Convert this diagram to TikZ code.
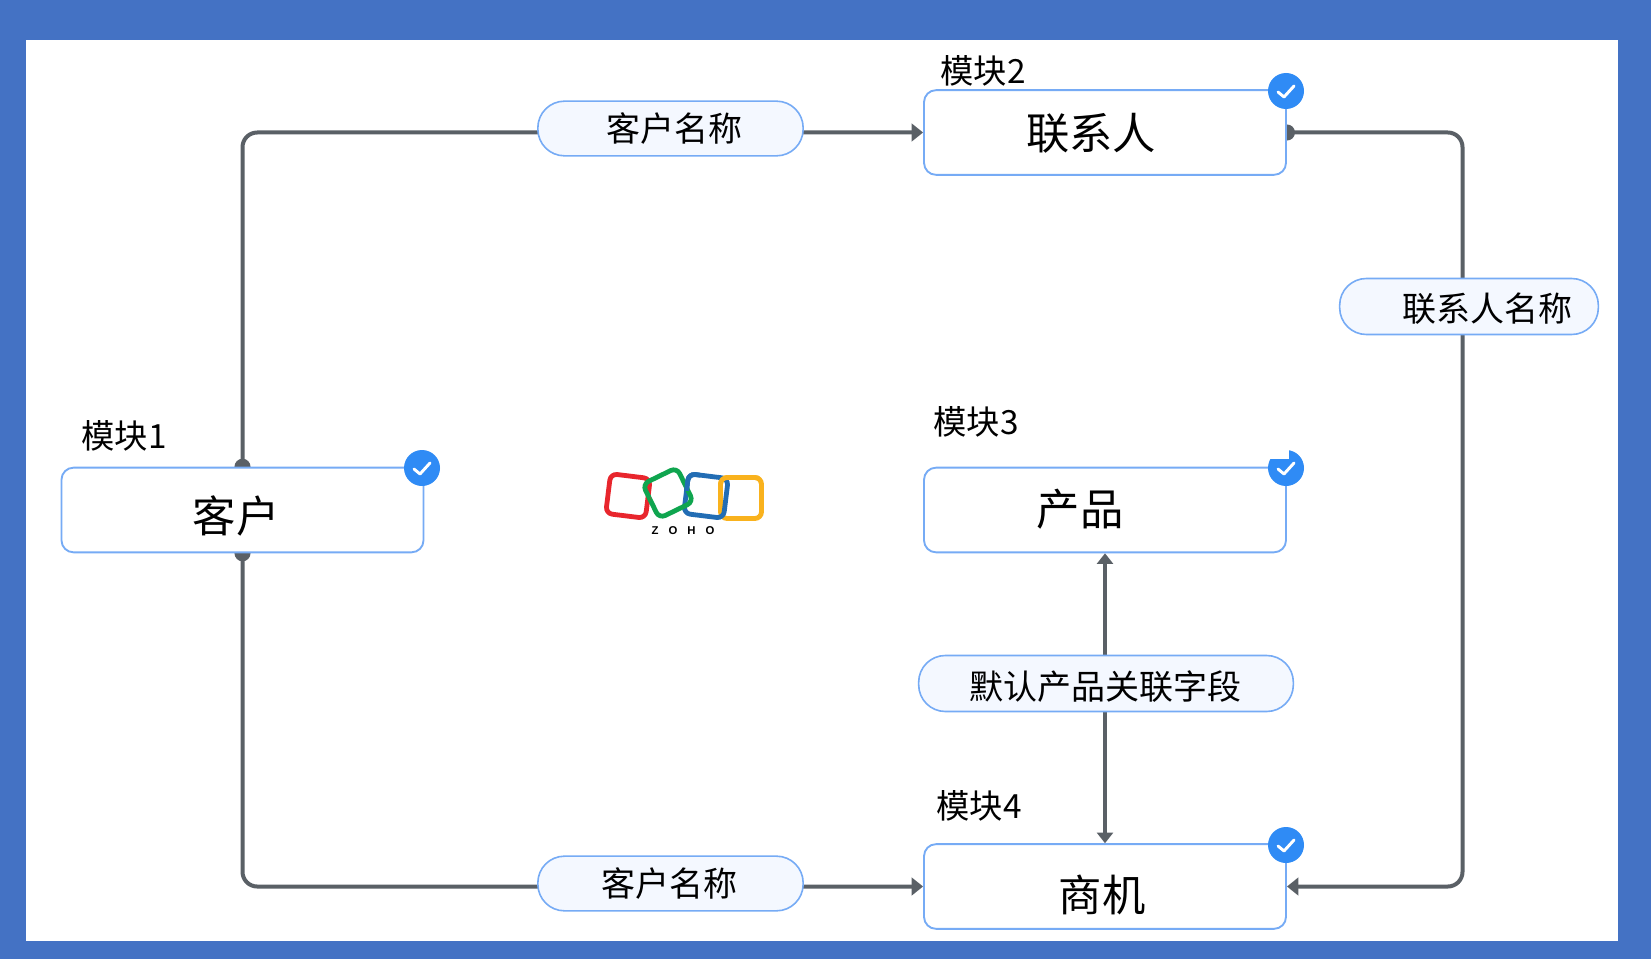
\documentclass[tikz,border=0pt]{standalone}
\usepackage{fontspec}
\setmainfont{Noto Sans CJK SC}
\newfontfamily\logofont{Liberation Sans}
\usetikzlibrary{arrows.meta,backgrounds}
\tikzset{
    modulebox/.style={draw=boxblue, line width=1.4pt, fill=white, rounded corners=9pt,
        minimum width=271.5pt, minimum height=63.5pt, inner sep=0pt},
    fieldpill/.style={draw=boxblue, line width=1.2pt, fill=pillfill, rounded corners=20pt,
        inner sep=0pt},
    pilltext/.style={font=\fontsize{25.5}{25.5}\selectfont, inner sep=0pt},
    modulelabel/.style={font=\fontsize{25}{25}\selectfont, inner sep=0pt},
    boxtext/.style={font=\fontsize{32.5}{32.5}\selectfont, inner sep=0pt},
    flowline/.style={draw=linegray, line width=3pt, rounded corners=11pt},
    flowboth/.style={{Circle[length=12pt,width=12pt]}-{Triangle[length=8.5pt,width=13pt]}, shorten <=-6pt},
    checkdot/.style={circle, fill=checkblue, minimum size=27pt, inner sep=0pt},
    logoring/.style={line width=3.6pt, rounded corners=5pt}
}
% ring of the logo: colour, centre x, centre y, angle, half side
\newcommand{\logoloop}[5]{
    \draw[logoring, draw=#1, rotate around={#4:(#2,#3)}]
        (#2-#5,#3-#5) rectangle (#2+#5,#3+#5);
}
\begin{document}
\begin{tikzpicture}[x=0.75pt, y=-0.75pt]
        % Define colors
        \definecolor{framecolor}{HTML}{4472C4}
        \definecolor{boxblue}{HTML}{76ABF5}
        \definecolor{pillfill}{HTML}{F4F8FF}
        \definecolor{linegray}{HTML}{5A6066}
        \definecolor{checkblue}{HTML}{2F8BF5}
        \definecolor{logored}{HTML}{E8262D}
        \definecolor{logogreen}{HTML}{0FA54F}
        \definecolor{logoblue}{HTML}{226DB4}
        \definecolor{logoyellow}{HTML}{F9B21D}

        \useasboundingbox (0,0) rectangle (1651,959);

        % Module boxes
        \node[modulebox] (kehu) at (242.5,510) {};
        \node[modulebox] (lianxi) at (1105,132.5) {};
        \node[modulebox] (chanpin) at (1105,510) {};
        \node[modulebox] (shangji) at (1105,886.5) {};
        \node[boxtext] at (236,516) {客户};
        \node[boxtext] at (1091,133) {联系人};
        \node[boxtext] at (1080,509) {产品};
        \node[boxtext] at (1102,895) {商机};

        % Module labels
        \node[modulelabel] (label1) at (124,436) {模块1};
        \node[modulelabel] (label2) at (983,71) {模块2};
        \node[modulelabel] (label3) at (976,422) {模块3};
        \node[modulelabel] (label4) at (979,806) {模块4};

        % Connectors
        \coordinate (turnright) at (1462.5,500);
        \begin{scope}[on background layer]
            \fill[framecolor] (0,0) rectangle (1651,959);
            \fill[white] (26,40) rectangle (1618,941);
            \draw[flowline, flowboth] (kehu.north) |- (lianxi.west);
            \draw[flowline, flowboth] (kehu.south) |- (shangji.west);
            \draw[flowline, flowboth] (lianxi.east) -- (lianxi.east -| turnright) -- (shangji.east -| turnright) -- (shangji.east);
            \draw[linegray, line width=2.4pt, {Triangle[length=8pt,width=12pt]}-{Triangle[length=8pt,width=12pt]}] (shangji.north) -- (chanpin.south);
        \end{scope}

        % Field pills
        \node[fieldpill, minimum width=199pt, minimum height=41pt] (pilltop) at (670.5,128.5) {};
        \node[fieldpill, minimum width=199pt, minimum height=41pt] (pillbottom) at (670.5,883.5) {};
        \node[fieldpill, minimum width=194pt, minimum height=42pt] (pillright) at (1469,306.5) {};
        \node[fieldpill, minimum width=281pt, minimum height=42pt] (pillmiddle) at (1106,683.5) {};
        \node[pilltext] at (674,129) {客户名称};
        \node[pilltext] at (669,884) {客户名称};
        \node[pilltext] at (1487,309) {联系人名称};
        \node[pilltext] at (1105.5,687) {默认产品关联字段};

        % Check marks
        \foreach \name/\px/\py in {a/422/468, b/1286/91, c/1286/468, d/1286/845} {
            \node[checkdot] (check\name) at (\px,\py) {};
        }
        \fill[white] (1262,445) rectangle (1289,458.5);
        \foreach \px/\py in {422/468, 1286/91, 1286/468, 1286/845}
            \draw[white, line width=2.2pt, line cap=round, line join=round]
                (\px-8,\py+1) -- (\px-2,\py+6) -- (\px+8,\py-5);

        % Logo
        \logoloop{logored}{628}{496}{-7}{20}
        \logoloop{logoyellow}{741}{498}{0}{20.5}
        \logoloop{logoblue}{706}{496}{-7}{20}
        \logoloop{logogreen}{668}{493}{26}{19}
        \begin{scope}
            \clip (650,497) rectangle (680,530);
            \logoloop{logored}{628}{496}{-7}{20}
        \end{scope}
        \begin{scope}
            \clip (675,465) rectangle (700,490);
            \logoloop{logoblue}{706}{496}{-7}{20}
        \end{scope}
        \begin{scope}
            \clip (715,470) rectangle (760,490);
            \logoloop{logoyellow}{741}{498}{0}{20.5}
        \end{scope}
        \node[font=\logofont\bfseries\fontsize{8.5}{8.5}\selectfont, inner sep=0pt] (logotext) at (683,531) {Z\hspace{7.5pt}O\hspace{7.5pt}H\hspace{7.5pt}O};
\end{tikzpicture}
\end{document}
